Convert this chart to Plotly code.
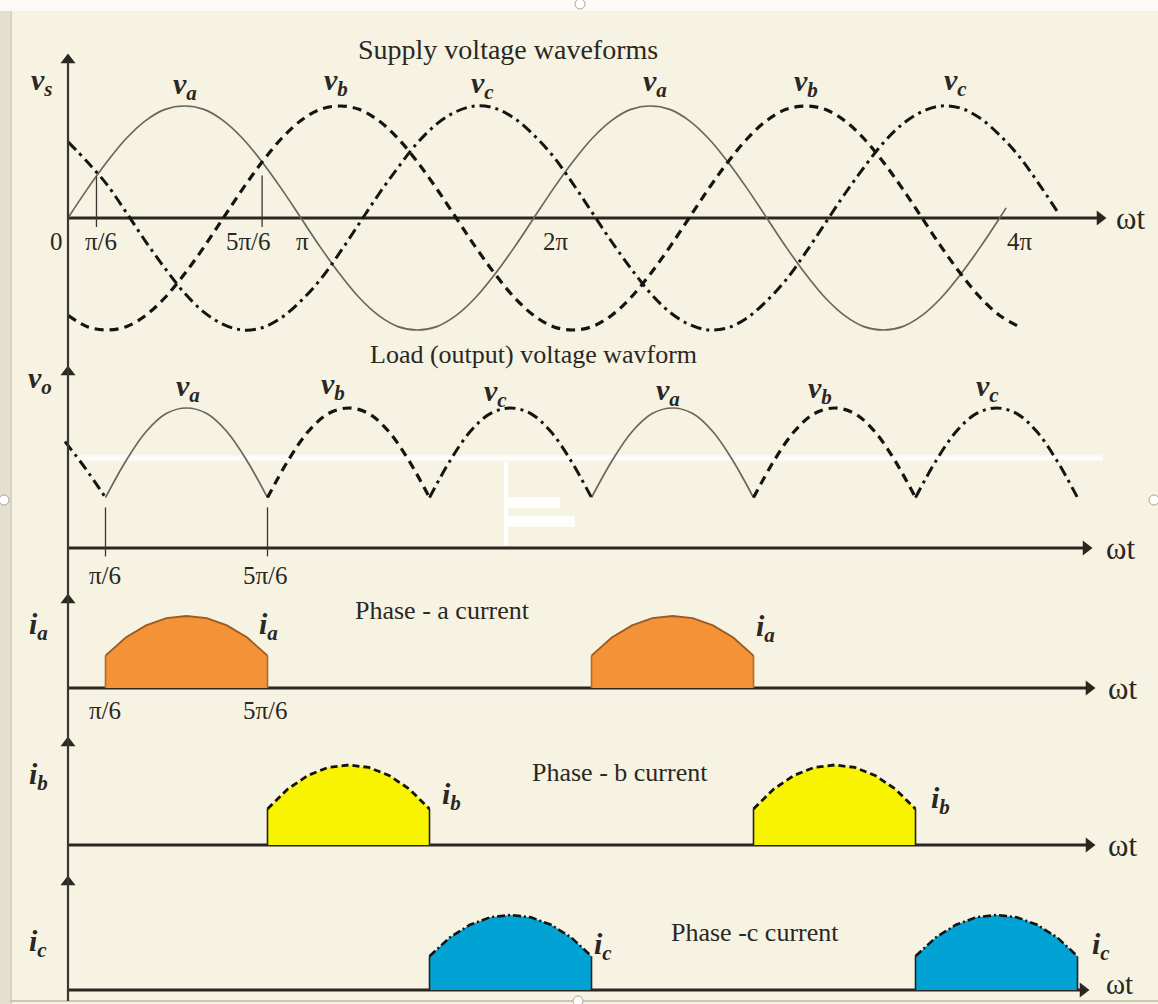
import plotly.graph_objects as go

W, H = 1158, 1004

# ---------------- data (angles in degrees, values normalised) ----------------
ANG1 = [0, 15, 30, 45, 60, 75, 90, 105, 120, 135, 150, 165, 180, 195, 210, 225, 240, 255, 270, 285, 300, 315, 330, 345,
        360, 375, 390, 405, 420, 435, 450, 465, 480, 495, 510, 525, 540, 555, 570, 585, 600, 615, 630, 645, 660, 675,
        690, 705, 720, 735, 750, 765]

VA1 = [0, .26, .5, .71, .87, .97, 1, .97, .87, .71, .5, .26, 0, -.26, -.5, -.71, -.87, -.97, -1, -.97, -.87, -.71, -.5, -.26,
       0, .26, .5, .71, .87, .97, 1, .97, .87, .71, .5, .26, 0, -.26, -.5, -.71, -.87, -.97, -1, -.97, -.87, -.71, -.5, -.26,
       0, .09]
VA1_ANG = ANG1[:49] + [725]

VB1 = [-.87, -.97, -1, -.97, -.87, -.71, -.5, -.26,
       0, .26, .5, .71, .87, .97, 1, .97, .87, .71, .5, .26, 0, -.26, -.5, -.71, -.87, -.97, -1, -.97, -.87, -.71, -.5, -.26,
       0, .26, .5, .71, .87, .97, 1, .97, .87, .71, .5, .26, 0, -.26, -.5, -.71, -.87, -.97]

VC1 = [.68, .5, .3, .05, -.21, -.45, -.67, -.84, -.95, -1, -.98, -.89, -.74, -.55, -.31, -.05, .21, .45, .67, .84, .95, 1, .98, .89,
       .74, .55, .31, .05, -.21, -.45, -.67, -.84, -.95, -1, -.98, -.89, -.74, -.55, -.31, -.05, .21, .45, .67, .84, .95, 1, .98, .89,
       .74, .55, .31, .05]

TICK1_ANG = [22, 150]
TICK1_TOP = [0.37, 0.38]
TICK1_BOT = -0.08

ANG2 = ANG1[:51]
VO = [.76, .57,
      .36, .62, .83, .96, 1, .96, .83, .62,
      .36, .62, .83, .96, 1, .96, .83, .62,
      .36, .62, .83, .96, 1, .96, .83, .62,
      .36, .62, .83, .96, 1, .96, .83, .62,
      .36, .62, .83, .96, 1, .96, .83, .62,
      .36, .62, .83, .96, 1, .96, .83, .62,
      .36]
VO_BOUNDS = [0, 30, 150, 270, 390, 510, 630, 750]
VO_PHASE = ["c", "a", "b", "c", "a", "b", "c"]

TICK2_ANG = [30, 150]
TICK2_TOP = 0.29
TICK2_BOT = -0.06

PULSE_OFF = [0, 15, 30, 45, 60, 75, 90, 105, 120]
PULSE_VAL = [.45, .7, .87, .97, 1, .97, .87, .7, .45]
IA_START = [30, 390]
IB_START = [150, 510]
IC_START = [270, 630]

# ---------------- layout geometry (pixels) ----------------
X0_1, PXDEG_1 = 68, 1.294      # panel 1 horizontal scale
X0_2, PXDEG_2 = 65, 1.35       # panels 2-5 horizontal scale
PANELS = [(218, 112), (548, 140), (688, 72), (845, 80), (990, 75)]  # (axis pixel y, px per unit)
AXIS_TIP = [1100, 1086, 1089, 1089, 1083]
VERT_TOP = [60, 372, 600, 743, 882]

INK = "#2B2620"
SERIF = "Liberation Serif"


def pp(x, y):
    return x / W, 1 - y / H


fig = go.Figure()

STY = {
    "a": dict(color="#6B665C", width=1.7),
    "b": dict(color="#161412", width=3.2, dash="9px,6px"),
    "c": dict(color="#161412", width=3.0, dash="11px,5px,3px,5px"),
}
XA = ["x", "x2", "x2", "x2", "x2"]
YA = ["y", "y2", "y3", "y4", "y5"]

# axes as traces (line + arrow head marker)
for i, ((ypx, sc), tip) in enumerate(zip(PANELS, AXIS_TIP)):
    x0, pxd = (X0_1, PXDEG_1) if i == 0 else (X0_2, PXDEG_2)
    start = (68 - x0) / pxd
    end = (tip - x0) / pxd
    fig.add_trace(go.Scatter(x=[start, end], y=[0, 0], mode="lines", line=dict(color=INK, width=2.8),
                             xaxis=XA[i], yaxis=YA[i], hoverinfo="skip"))
    fig.add_trace(go.Scatter(x=[end], y=[0], mode="markers",
                             marker=dict(symbol="triangle-right", size=13, color=INK, line=dict(width=0)),
                             xaxis=XA[i], yaxis=YA[i], hoverinfo="skip"))
    fig.add_trace(go.Scatter(x=[(68 - X0_1) / PXDEG_1], y=[(ypx - VERT_TOP[i]) / sc], mode="markers",
                             marker=dict(symbol="triangle-up", size=13, color="#2A2724", line=dict(width=0)),
                             xaxis="x", yaxis=YA[i], hoverinfo="skip"))

# panel 1 supply voltages
for ang, vals, k in [(VA1_ANG, VA1, "a"), (ANG1, VB1, "b"), (ANG1, VC1, "c")]:
    fig.add_trace(go.Scatter(x=ang, y=vals, mode="lines", line=dict(shape="spline", smoothing=1, **STY[k]),
                             xaxis="x", yaxis="y", hoverinfo="skip"))
for a, t in zip(TICK1_ANG, TICK1_TOP):
    fig.add_trace(go.Scatter(x=[a, a], y=[TICK1_BOT, t], mode="lines", line=dict(color="#3A3530", width=1.3),
                             xaxis="x", yaxis="y", hoverinfo="skip"))

# panel 2 output voltage
for ph in ["a", "b", "c"]:
    xs, ys = [], []
    for i, p in enumerate(VO_PHASE):
        if p != ph:
            continue
        lo, hi = VO_BOUNDS[i], VO_BOUNDS[i + 1]
        for a, v in zip(ANG2, VO):
            if lo <= a <= hi:
                xs.append(a)
                ys.append(v)
        xs.append(None)
        ys.append(None)
    fig.add_trace(go.Scatter(x=xs, y=ys, mode="lines", line=dict(shape="spline", smoothing=1, **STY[ph]),
                             xaxis="x2", yaxis="y2", hoverinfo="skip", connectgaps=False))
for a in TICK2_ANG:
    fig.add_trace(go.Scatter(x=[a, a], y=[TICK2_BOT, TICK2_TOP], mode="lines", line=dict(color="#3A3530", width=1.3),
                             xaxis="x2", yaxis="y2", hoverinfo="skip"))

# panels 3-5 currents
CUR = [
    (IA_START, "y3", "#F39236", dict(color="#9A5A22", width=1.8), "#B06A2A"),
    (IB_START, "y4", "#F8F300", dict(color="#161412", width=2.8, dash="7px,4px"), "#222"),
    (IC_START, "y5", "#00A3D3", dict(color="#161412", width=2.6, dash="8px,3px,2px,3px"), "#222"),
]
for starts, ya, fillc, topline, edgec in CUR:
    for s in starts:
        xs = [s] + [s + o for o in PULSE_OFF] + [s + PULSE_OFF[-1]]
        ys = [0] + PULSE_VAL + [0]
        fig.add_trace(go.Scatter(x=xs, y=ys, mode="lines", fill="toself", fillcolor=fillc,
                                 line=dict(width=0, color=fillc), xaxis="x2", yaxis=ya, hoverinfo="skip"))
        fig.add_trace(go.Scatter(x=[s + o for o in PULSE_OFF], y=PULSE_VAL, mode="lines", line=topline,
                                 xaxis="x2", yaxis=ya, hoverinfo="skip"))
        e = s + PULSE_OFF[-1]
        fig.add_trace(go.Scatter(x=[s, s, None, e, e], y=[0, PULSE_VAL[0], None, 0, PULSE_VAL[-1]], mode="lines",
                                 line=dict(color=edgec, width=1.6), xaxis="x2", yaxis=ya, hoverinfo="skip"))

# ---------------- axes ----------------
layout_axes = {}
layout_axes["xaxis"] = dict(range=[-X0_1 / PXDEG_1, (W - X0_1) / PXDEG_1], domain=[0, 1], visible=False, fixedrange=True)
layout_axes["xaxis2"] = dict(range=[-X0_2 / PXDEG_2, (W - X0_2) / PXDEG_2], domain=[0, 1], visible=False,
                             fixedrange=True, overlaying="x")
for i, (ypx, sc) in enumerate(PANELS):
    name = "yaxis" if i == 0 else f"yaxis{i + 1}"
    d = dict(range=[(ypx - H) / sc, ypx / sc], domain=[0, 1], visible=False, fixedrange=True)
    if i > 0:
        d["overlaying"] = "y"
    layout_axes[name] = d

annotations = []
shapes = []


def txt(t, x, y, size, **kw):
    px, py = pp(x, y)
    annotations.append(dict(text=t, x=px, y=py, xref="paper", yref="paper", showarrow=False,
                            xanchor="center", yanchor="middle",
                            font=dict(family=SERIF, size=size, color="#2A2724"), **kw))


def vlab(sym, sub, x, y, size=30):
    txt(f"<b><i>{sym}</i></b><sub><b><i>{sub}</i></b></sub>", x, y, size)


# vertical axis line
vx, vt = pp(68, 62)
_, vb = pp(68, 1001)
shapes.append(dict(type="line", xref="paper", yref="paper", x0=vx, x1=vx, y0=vb, y1=vt,
                   line=dict(color="#3A3632", width=2.2)))

# frame / background decorations
shapes.append(dict(type="rect", xref="paper", yref="paper", x0=0, x1=1, y0=pp(0, 11)[1], y1=1,
                   fillcolor="#FBFAF5", line=dict(width=0), layer="below"))
shapes.append(dict(type="rect", xref="paper", yref="paper", x0=0, x1=pp(11, 0)[0], y0=0, y1=pp(0, 11)[1],
                   fillcolor="#E4E0D0", line=dict(width=0), layer="below"))
shapes.append(dict(type="line", xref="paper", yref="paper", x0=pp(11, 0)[0], x1=pp(11, 0)[0], y0=0, y1=pp(0, 11)[1],
                   line=dict(color="#CFCAB8", width=1.5), layer="below"))
shapes.append(dict(type="line", xref="paper", yref="paper", x0=pp(11, 0)[0], x1=1, y0=pp(0, 1001)[1], y1=pp(0, 1001)[1],
                   line=dict(color="#BDB8A8", width=1.5), layer="below"))
# erased white streak and blob in output-voltage panel
s0, sy = pp(75, 458)
s1, _ = pp(1103, 458)
shapes.append(dict(type="line", xref="paper", yref="paper", x0=s0, x1=s1, y0=sy, y1=sy,
                   line=dict(color="#FFFFFF", width=5), opacity=0.9, layer="below"))
bx, by0 = pp(506, 462)
_, by1 = pp(506, 545)
shapes.append(dict(type="line", xref="paper", yref="paper", x0=bx, x1=bx, y0=by1, y1=by0,
                   line=dict(color="#FFFFFF", width=4), layer="below"))
for (xa_, ya_, xb_, yb_) in [(506, 497, 560, 508), (506, 516, 575, 527)]:
    a1, b1 = pp(xa_, ya_)
    a2, b2 = pp(xb_, yb_)
    shapes.append(dict(type="rect", xref="paper", yref="paper", x0=a1, x1=a2, y0=b2, y1=b1,
                       fillcolor="#FFFFFF", line=dict(width=0), opacity=0.9, layer="below"))
# small handle circles on the border
for cx, cy in [(580, 4), (4, 500), (1154, 500), (578, 1001)]:
    x1_, y1_ = pp(cx - 5, cy - 5)
    x2_, y2_ = pp(cx + 5, cy + 5)
    shapes.append(dict(type="circle", xref="paper", yref="paper", x0=x1_, x1=x2_, y0=y2_, y1=y1_,
                       fillcolor="#FFFFFF", line=dict(color="#A8A49A", width=1)))

# ---------------- texts ----------------
txt("Supply voltage waveforms", 508, 50, 28)
vlab("v", "s", 42, 82)
for sub, x, y in [("a", 185, 86), ("b", 336, 82), ("c", 482, 85), ("a", 655, 83), ("b", 806, 83), ("c", 955, 82)]:
    vlab("v", sub, x, y)
for t, x in [("0", 56), ("π/6", 101), ("5π/6", 249), ("π", 302), ("2π", 556), ("4π", 1020)]:
    txt(t, x, 241, 25)
txt("ωt", 1130, 218, 31)

txt("Load (output) voltage wavform", 533, 354, 26)
vlab("v", "o", 40, 380)
for sub, x, y in [("a", 188, 388), ("b", 333, 386), ("c", 495, 393), ("a", 668, 392), ("b", 820, 390), ("c", 987, 388)]:
    vlab("v", sub, x, y)
txt("π/6", 105, 575, 25)
txt("5π/6", 265, 575, 25)
txt("ωt", 1120, 548, 31)

vlab("i", "a", 38, 626)
txt("Phase - a current", 442, 610, 26)
vlab("i", "a", 268, 626)
vlab("i", "a", 765, 628)
txt("π/6", 105, 710, 25)
txt("5π/6", 265, 710, 25)
txt("ωt", 1122, 688, 31)

vlab("i", "b", 38, 776)
txt("Phase - b current", 620, 772, 26)
vlab("i", "b", 451, 796)
vlab("i", "b", 940, 800)
txt("ωt", 1122, 845, 31)

vlab("i", "c", 38, 943)
txt("Phase -c current", 755, 932, 26)
vlab("i", "c", 603, 946)
vlab("i", "c", 1101, 946)
txt("ωt", 1119, 984, 29)

fig.update_layout(
    width=W, height=H, autosize=False,
    margin=dict(l=0, r=0, t=0, b=0, pad=0),
    paper_bgcolor="#F6F3E2", plot_bgcolor="rgba(0,0,0,0)",
    showlegend=False,
    annotations=annotations, shapes=shapes,
    **layout_axes,
)

fig.write_html("out.html", config={"displayModeBar": False, "staticPlot": True},
               post_script="document.body.style.margin='0px';document.body.style.padding='0px';")
